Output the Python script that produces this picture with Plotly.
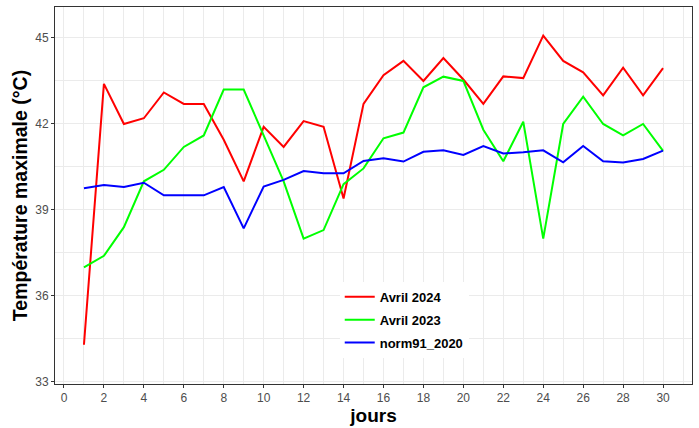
import plotly.graph_objects as go

jours = list(range(1, 31))
avril_2024 = [34.3, 43.4, 42.0, 42.2, 43.1, 42.7, 42.7, 41.45, 40.0, 41.9,
              41.2, 42.1, 41.9, 39.4, 42.7, 43.7, 44.2, 43.5, 44.3, 43.55,
              42.7, 43.66, 43.6, 45.08, 44.2, 43.8, 43.0, 43.96, 43.0, 43.95]
avril_2023 = [37.0, 37.4, 38.4, 40.0, 40.4, 41.2, 41.6, 43.2, 43.2, 41.6,
              40.0, 38.0, 38.3, 39.9, 40.45, 41.5, 41.7, 43.28, 43.65, 43.5,
              41.8, 40.7, 42.08, 38.0, 42.0, 42.95, 42.0, 41.6, 42.0, 41.06]
norm91_2020 = [39.76, 39.87, 39.8, 39.95, 39.51, 39.51, 39.51, 39.8, 38.36, 39.82,
               40.05, 40.36, 40.28, 40.28, 40.71, 40.8, 40.69, 41.03, 41.08, 40.92,
               41.23, 40.97, 41.01, 41.08, 40.66, 41.23, 40.7, 40.66, 40.78, 41.07]

series = [("Avril 2024", avril_2024, "#FF0000"),
          ("Avril 2023", avril_2023, "#00FF00"),
          ("norm91_2020", norm91_2020, "#0000FF")]

x_ticks = list(range(0, 31, 2))
y_ticks = [33, 36, 39, 42, 45]

fig = go.Figure()
for name, vals, col in series:
    fig.add_trace(go.Scatter(x=jours, y=vals, mode="lines", name=name,
                             legendgroup=name,
                             line=dict(color=col, width=2)))

font = "Arial, Liberation Sans, sans-serif"
grid = "#EBEBEB"
fig.update_layout(
    width=699, height=428,
    margin=dict(l=55, r=7, t=7, b=44),
    paper_bgcolor="white", plot_bgcolor="white",
    font=dict(family=font, size=12, color="#4D4D4D"),
    showlegend=True,
    legend=dict(x=0.447, xanchor="left", y=0.271, yanchor="top",
                bgcolor="white", borderwidth=0, tracegroupgap=3,
                font=dict(family=font, size=13, color="black", weight="bold")),
    xaxis=dict(range=[-0.45, 31.45], tickmode="array", tickvals=x_ticks,
               ticktext=[str(v) for v in x_ticks],
               showgrid=True, gridcolor=grid, gridwidth=1.1,
               minor=dict(dtick=1, tick0=0, showgrid=True, gridcolor=grid, gridwidth=0.6),
               ticks="outside", ticklen=3, tickcolor="#333333", tickwidth=1,
               showline=True, linecolor="#333333", linewidth=1, mirror=True,
               zeroline=False, automargin=False,
               tickfont=dict(size=12, color="#4D4D4D"),
               title=dict(text="jours", standoff=3,
                          font=dict(family=font, size=19, color="black", weight="bold"))),
    yaxis=dict(range=[32.93, 46.08], tickmode="array", tickvals=y_ticks,
               ticktext=[str(v) for v in y_ticks],
               showgrid=True, gridcolor=grid, gridwidth=1.1,
               minor=dict(dtick=1.5, tick0=33, showgrid=True, gridcolor=grid, gridwidth=0.6),
               ticks="outside", ticklen=3, tickcolor="#333333", tickwidth=1,
               showline=True, linecolor="#333333", linewidth=1, mirror=True,
               zeroline=False, automargin=False,
               tickfont=dict(size=12, color="#4D4D4D"),
               title=dict(text="Température maximale (°C)", standoff=2,
                          font=dict(family=font, size=19.5, color="black", weight="bold"))),
)

fig.write_html("out.html", config={"displayModeBar": False},
               post_script="document.body.style.margin='0px';")
